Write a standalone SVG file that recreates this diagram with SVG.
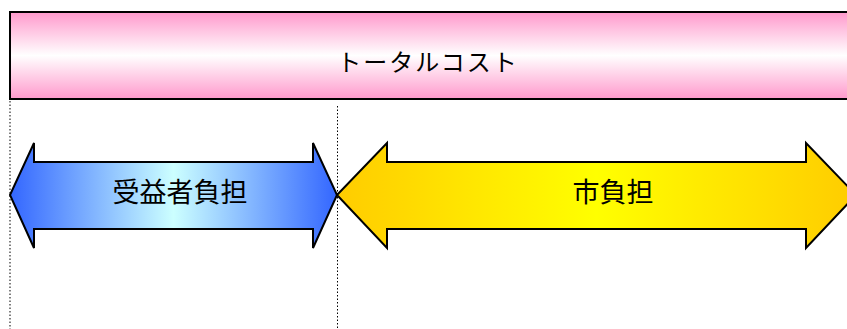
<svg xmlns="http://www.w3.org/2000/svg" width="847" height="329" viewBox="0 0 847 329">
<style>
.t{font-family:"Noto Sans CJK JP","Noto Sans CJK SC",sans-serif;fill:#000;text-anchor:middle}
.sh{stroke:#000;stroke-width:2;stroke-linejoin:miter}
.dot{stroke:#000;stroke-width:1;stroke-dasharray:1.5 2;fill:none}
</style>
<defs>
<linearGradient id="pink" x1="0" y1="0" x2="0" y2="1">
<stop offset="0" stop-color="#ff99cc"/><stop offset="0.5" stop-color="#ffffff"/><stop offset="1" stop-color="#ff99cc"/>
</linearGradient>
<linearGradient id="blue" x1="0" y1="0" x2="1" y2="0">
<stop offset="0" stop-color="#3366ff"/><stop offset="0.5" stop-color="#ccffff"/><stop offset="1" stop-color="#3366ff"/>
</linearGradient>
<linearGradient id="yel" x1="0" y1="0" x2="1" y2="0">
<stop offset="0" stop-color="#ffcc00"/><stop offset="0.5" stop-color="#ffff00"/><stop offset="1" stop-color="#ffcc00"/>
</linearGradient>
</defs>
<g id="connectors">
<line class="dot" x1="10" y1="101" x2="10" y2="329"/>
<line class="dot" x1="337.5" y1="106" x2="337.5" y2="329"/>
</g>
<g id="total">
<rect class="sh" x="10" y="12" width="850" height="87" fill="url(#pink)"/>
<text class="t" x="428" y="71" font-size="24" letter-spacing="2">トータルコスト</text>
</g>
<g id="beneficiary">
<path class="sh" fill="url(#blue)" d="M10,195 L34,143 L34,162 L313,162 L313,143 L337,195 L313,248 L313,229 L34,229 L34,248 Z"/>
<text class="t" x="180" y="202" font-size="27">受益者負担</text>
</g>
<g id="city">
<path class="sh" fill="url(#yel)" d="M337,195 L387,143 L387,162 L806,162 L806,143 L856,195 L806,248 L806,229 L387,229 L387,248 Z"/>
<text class="t" x="613" y="202" font-size="27">市負担</text>
</g>
</svg>
